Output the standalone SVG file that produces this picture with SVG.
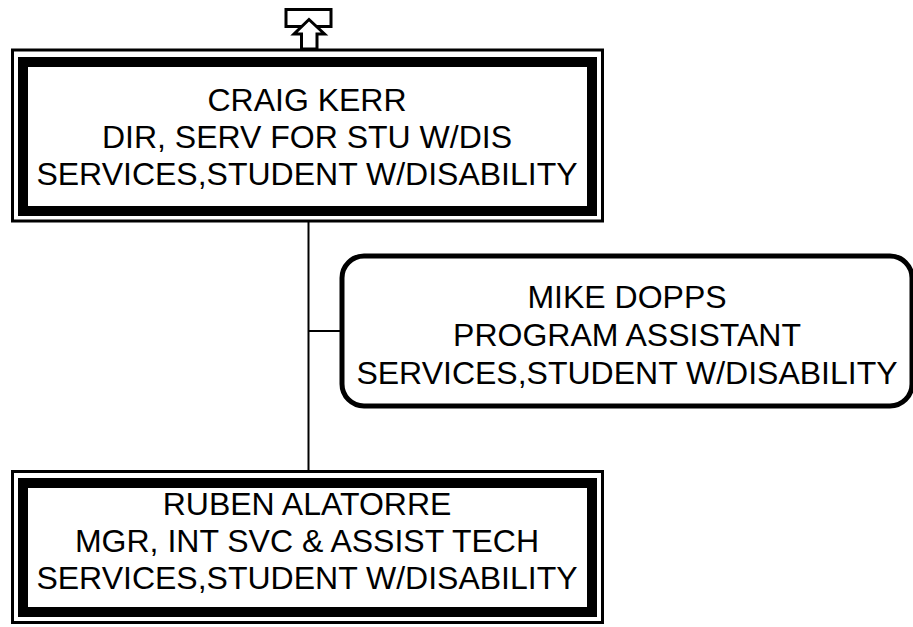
<svg xmlns="http://www.w3.org/2000/svg" width="913" height="627" viewBox="0 0 913 627">
<style>
.thin{fill:none;stroke:#000;stroke-width:3}
.thick{fill:#fff;stroke:#000;stroke-width:10}
.round{fill:#fff;stroke:#000;stroke-width:5}
.conn{stroke:#000;stroke-width:2;fill:none}
text{font-family:"Liberation Sans",Arial,sans-serif;font-size:32px;fill:#000;text-anchor:middle}
</style>
<rect width="913" height="627" fill="#fff"/>
<g id="connectors">
<line class="conn" x1="308.5" y1="222" x2="308.5" y2="471"/>
<line class="conn" x1="308" y1="331" x2="342" y2="331"/>
</g>
<g id="up-link">
<rect x="286" y="9.5" width="45" height="17" fill="none" stroke="#000" stroke-width="3"/>
<polygon points="309,19.5 324.5,34 317,34 317,49 301.5,49 301.5,34 294,34" fill="#fff" stroke="#000" stroke-width="3" stroke-linejoin="miter"/>
</g>
<g id="craig-kerr">
<rect class="thin" x="12.5" y="50" width="590" height="171"/>
<rect class="thick" x="23" y="62" width="569" height="149"/>
<text x="307" y="111">CRAIG KERR</text>
<text x="307" y="148">DIR, SERV FOR STU W/DIS</text>
<text x="307" y="185">SERVICES,STUDENT W/DISABILITY</text>
</g>
<g id="mike-dopps">
<rect class="round" x="342" y="256" width="570" height="150" rx="22" ry="22"/>
<text x="627" y="308">MIKE DOPPS</text>
<text x="627" y="346">PROGRAM ASSISTANT</text>
<text x="627" y="384">SERVICES,STUDENT W/DISABILITY</text>
</g>
<g id="ruben-alatorre">
<rect class="thin" x="12.5" y="471.5" width="590" height="151"/>
<rect class="thick" x="23" y="483" width="569" height="129"/>
<text x="307" y="515">RUBEN ALATORRE</text>
<text x="307" y="552">MGR, INT SVC &amp; ASSIST TECH</text>
<text x="307" y="589">SERVICES,STUDENT W/DISABILITY</text>
</g>
</svg>
